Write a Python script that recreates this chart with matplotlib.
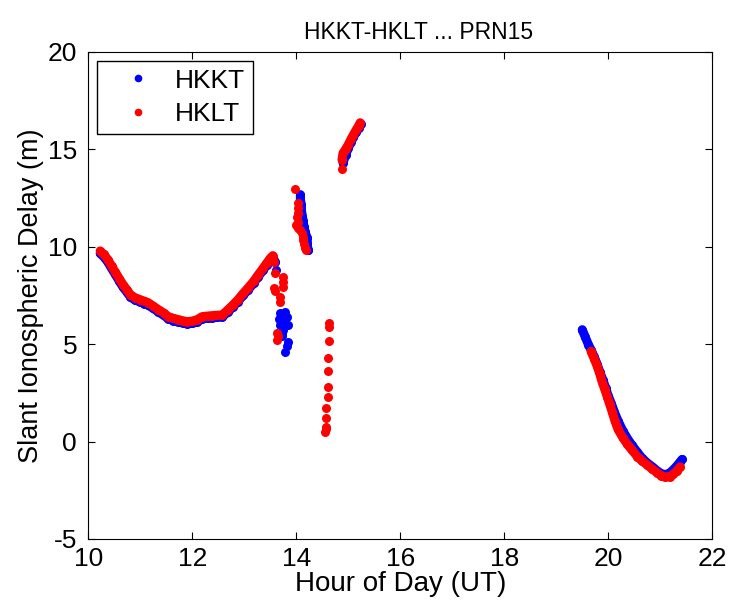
import matplotlib.pyplot as plt
from matplotlib.lines import Line2D

plt.rcParams['font.family'] = ['Liberation Sans', 'DejaVu Sans']
plt.rcParams['axes.unicode_minus'] = False

# HKKT (blue)
kt_a_h = [10.23, 10.3, 10.38, 10.45, 10.52, 10.6, 10.67, 10.74, 10.81, 10.9, 11.0, 11.08, 11.15, 11.25, 11.35,
          11.45, 11.54, 11.64, 11.73, 11.82, 11.9, 12.0, 12.1, 12.19, 12.3, 12.38, 12.48, 12.58, 12.69, 12.78,
          12.88, 12.98, 13.08, 13.18, 13.27, 13.36, 13.44, 13.5, 13.56, 13.6]
kt_a_v = [9.65, 9.48, 9.2, 8.88, 8.58, 8.22, 7.92, 7.68, 7.42, 7.26, 7.16, 7.08, 7.0, 6.83, 6.65,
          6.48, 6.3, 6.2, 6.14, 6.08, 6.04, 6.06, 6.14, 6.3, 6.33, 6.35, 6.37, 6.4, 6.66, 6.9,
          7.18, 7.5, 7.8, 8.12, 8.46, 8.78, 9.08, 9.3, 9.4, 9.2]
kt_b_h = [13.62, 13.69, 13.72, 13.79, 13.83, 13.73, 13.66, 13.85, 13.75, 13.72, 13.73, 13.85, 13.82, 13.79, 13.68]
kt_b_v = [8.8, 6.6, 6.5, 6.67, 6.41, 6.26, 6.3, 6.0, 5.74, 5.5, 5.4, 5.13, 4.9, 4.6, 6.0]
kt_c_h = [14.08, 14.08, 14.1, 14.1, 14.12, 14.13, 14.15, 14.17, 14.21, 14.2, 14.23, 14.05, 14.07]
kt_c_v = [12.67, 12.4, 12.15, 11.85, 11.54, 11.3, 11.03, 10.75, 10.46, 10.2, 9.85, 11.4, 11.0]
kt_d_h = [14.9, 14.95, 15.0, 15.05, 15.1, 15.15, 15.2, 15.24]
kt_d_v = [14.3, 14.7, 15.05, 15.35, 15.62, 15.88, 16.1, 16.3]
kt_e_h = [19.5, 19.56, 19.62, 19.67, 19.73, 19.79, 19.84, 19.9, 19.95, 20.0, 20.06, 20.12, 20.19, 20.28,
          20.37, 20.46, 20.56, 20.65, 20.75, 20.85, 20.94, 21.02, 21.1, 21.18, 21.25, 21.32, 21.38, 21.42]
kt_e_v = [5.74, 5.35, 4.97, 4.7, 4.35, 3.95, 3.55, 3.15, 2.75, 2.35, 1.95, 1.5, 1.05, 0.55,
          0.15, -0.2, -0.55, -0.85, -1.1, -1.3, -1.5, -1.65, -1.7, -1.62, -1.45, -1.25, -1.05, -0.92]

# HKLT (red)
lt_a_h = [10.23, 10.3, 10.38, 10.45, 10.52, 10.6, 10.67, 10.74, 10.81, 10.9, 11.0, 11.08, 11.15, 11.25, 11.35,
          11.45, 11.54, 11.64, 11.73, 11.82, 11.9, 12.0, 12.1, 12.19, 12.3, 12.38, 12.48, 12.58, 12.69, 12.78,
          12.88, 12.98, 13.08, 13.18, 13.27, 13.36, 13.44, 13.5, 13.55]
lt_a_v = [9.78, 9.6, 9.33, 9.0, 8.7, 8.35, 8.05, 7.8, 7.54, 7.38, 7.28, 7.2, 7.13, 6.95, 6.77,
          6.6, 6.41, 6.32, 6.26, 6.2, 6.15, 6.18, 6.26, 6.41, 6.44, 6.46, 6.48, 6.5, 6.77, 7.0,
          7.28, 7.6, 7.9, 8.22, 8.56, 8.88, 9.18, 9.4, 9.54]
lt_b_h = [13.58, 13.6, 13.58, 13.6, 13.75, 13.75, 13.75, 13.69, 13.69, 13.63, 13.65, 13.63]
lt_b_v = [9.2, 8.67, 7.9, 7.7, 8.46, 8.2, 7.95, 7.44, 7.18, 5.59, 5.4, 5.23]
lt_c_h = [13.98, 14.04, 14.04, 14.04, 14.02, 14.03, 14.0, 14.03, 14.08, 14.12, 14.13, 14.13, 14.15, 14.17, 14.18]
lt_c_v = [12.95, 12.26, 12.0, 11.74, 11.5, 11.28, 11.1, 10.97, 10.85, 10.7, 10.5, 10.36, 10.15, 9.95, 9.85]
lt_d_h = [14.63, 14.63, 14.63, 14.61, 14.61, 14.61, 14.61, 14.58, 14.58, 14.57, 14.56, 14.57]
lt_d_v = [6.1, 5.9, 5.18, 4.3, 3.64, 2.82, 2.26, 1.74, 1.23, 0.77, 0.51, 0.65]
lt_e_h = [14.88, 14.9, 14.95, 15.0, 15.05, 15.1, 15.15, 15.2, 15.23]
lt_e_v = [14.46, 14.8, 15.0, 15.23, 15.5, 15.74, 15.98, 16.2, 16.36]
lt_f_h = [14.88]
lt_f_v = [14.0]
lt_g_h = [19.67, 19.73, 19.79, 19.84, 19.88, 19.93, 19.98, 20.03, 20.08, 20.13, 20.19, 20.28, 20.37,
          20.46, 20.56, 20.65, 20.75, 20.85, 20.94, 21.02, 21.1, 21.18, 21.25, 21.32, 21.38]
lt_g_v = [4.62, 4.25, 3.85, 3.45, 3.08, 2.7, 2.31, 1.9, 1.49, 1.05, 0.62, 0.2, -0.15,
          -0.45, -0.77, -1.0, -1.2, -1.42, -1.6, -1.75, -1.82, -1.8, -1.68, -1.5, -1.3]

fig = plt.figure(figsize=(7.29, 6.09), dpi=100)
ax = fig.add_axes([0.121, 0.115, 0.856, 0.8])

ms = 6.5
lw = 6.5


def trace(h, v, c):
    ax.plot(h, v, '-', color=c, lw=lw, solid_capstyle='round', solid_joinstyle='round')
    ax.plot(h, v, 'o', color=c, ms=ms, mec='none')


def dots(h, v, c):
    ax.plot(h, v, 'o', color=c, ms=ms, mec='none')


trace(kt_a_h, kt_a_v, 'b')
dots(kt_b_h, kt_b_v, 'b')
trace(kt_c_h[:11], kt_c_v[:11], 'b')
dots(kt_c_h, kt_c_v, 'b')
trace(kt_d_h, kt_d_v, 'b')
trace(kt_e_h, kt_e_v, 'b')

trace(lt_a_h, lt_a_v, 'r')
dots(lt_b_h, lt_b_v, 'r')
dots(lt_c_h, lt_c_v, 'r')
dots(lt_d_h, lt_d_v, 'r')
trace(lt_e_h, lt_e_v, 'r')
dots(lt_f_h, lt_f_v, 'r')
trace(lt_g_h, lt_g_v, 'r')

ax.set_xlim(10, 22)
ax.set_ylim(-5, 20)
ax.set_xticks(range(10, 23, 2))
ax.set_yticks(range(-5, 21, 5))
ax.tick_params(direction='in', top=True, right=True, labelsize=19, length=5)
ax.tick_params(axis='x', pad=6)
ax.tick_params(axis='y', pad=8)
ax.set_xlabel('Hour of Day (UT)', fontsize=20, labelpad=0)
ax.set_ylabel('Slant Ionospheric Delay (m)', fontsize=19.5, labelpad=3)
ax.set_title('HKKT-HKLT ... PRN15', fontsize=16.5, pad=9, x=0.53)

handles = [Line2D([], [], ls='none', marker='o', color='b', ms=5.5, mec='none'),
           Line2D([], [], ls='none', marker='o', color='r', ms=5.5, mec='none')]
leg = ax.legend(handles, ['HKKT', 'HKLT'], loc='upper left', fontsize=19, fancybox=False,
                edgecolor='k', framealpha=1, handletextpad=0.15, borderaxespad=0.34,
                handlelength=2.5, labelspacing=0.35, borderpad=0.3)
leg.get_frame().set_linewidth(1)

fig.savefig('out.png', dpi=100)
